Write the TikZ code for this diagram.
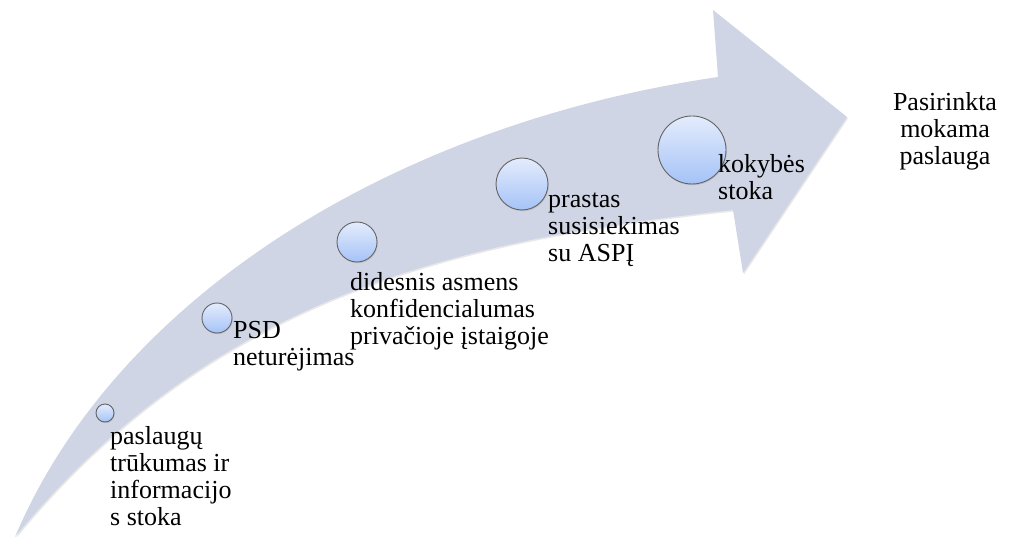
\documentclass[tikz,border=0pt]{standalone}
\usepackage{fontspec}
\setmainfont{Liberation Serif}
\newfontfamily\labfont{Liberation Serif}
\usetikzlibrary{shadows}
\definecolor{band}{RGB}{207,213,228}
\definecolor{ctop}{RGB}{228,236,252}
\definecolor{cbot}{RGB}{165,195,247}
\definecolor{cline}{RGB}{100,100,100}
\begin{document}
\begin{tikzpicture}[x=1pt,y=-1pt,
  circ/.style={circle, draw=cline, line width=0.9pt, top color=ctop, bottom color=cbot, inner sep=0pt,
    drop shadow={opacity=0.25, shadow xshift=0.8pt, shadow yshift=-1.2pt}},
  lab/.style={anchor=north west, inner sep=0pt, align=left, font=\labfont\fontsize{26}{27}\selectfont},
  arrowband/.style={fill=band, drop shadow={opacity=0.18, shadow xshift=1pt, shadow yshift=-1.5pt}}]
\useasboundingbox (0,0) rectangle (1024,537);
% curved arrow
\path[arrowband] (15,537) .. controls (115,300) and (390,125) .. (718,77)
  -- (713,10) -- (847,117) -- (743,273) -- (733,210)
  .. controls (450,240) and (210,300) .. (15,537) -- cycle;
% circles
\node[circ, minimum size=18pt] (c1) at (105,413) {};
\node[circ, minimum size=30pt] (c2) at (217,318) {};
\node[circ, minimum size=40pt] (c3) at (357,242) {};
\node[circ, minimum size=52pt] (c4) at (522,184) {};
\node[circ, minimum size=68pt] (c5) at (692,150) {};
% labels
\node[lab] (t1) at (110,425.1) {\strut paslaugų\\trūkumas ir\\informacijo\\s stoka};
\node[lab] (t2) at (233,319.1) {\strut PSD\\neturėjimas};
\node[lab] (t3) at (350,271.1) {\strut didesnis asmens\\konfidencialumas\\privačioje įstaigoje};
\node[lab] (t4) at (548,188.1) {\strut prastas\\susisiekimas\\su ASPĮ};
\node[lab] (t5) at (718,153.1) {\strut kokybės\\stoka};
\node[lab, anchor=north, align=center] (t6) at (945,91.1) {\strut Pasirinkta\\mokama\\paslauga};
\end{tikzpicture}
\end{document}
